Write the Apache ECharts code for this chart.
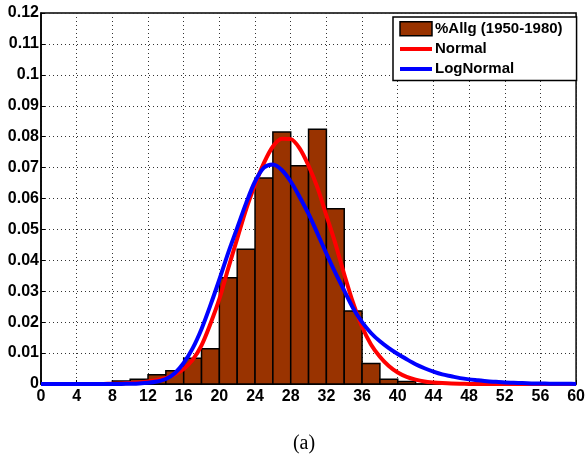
<!DOCTYPE html>
<html>
<head>
<meta charset="utf-8">
<script src="https://cdn.jsdelivr.net/npm/echarts@6/dist/echarts.min.js"></script>
<style>
html,body{margin:0;padding:0;background:#fff;}
#c{width:588px;height:455px;}
</style>
</head>
<body>
<div id="c"></div>
<script>
// Histogram bins: [start, end, density]
const binStarts = [8, 10, 12, 14, 16, 18, 20, 22, 24, 26, 28, 30, 32, 34, 36, 38, 40];
const binEnds   = [10, 12, 14, 16, 18, 20, 22, 24, 26, 28, 30, 32, 34, 36, 38, 40, 42];
const binValues = [0.001, 0.0015, 0.003, 0.0043, 0.0083, 0.0114, 0.0344, 0.0436, 0.0666, 0.0815, 0.0706, 0.0824, 0.0567, 0.0236, 0.0066, 0.0015, 0.0008];

// Fitted curves sampled at x positions
const curveX = [0,1,2,3,4,5,6,7,8,9,10,11,12,13,14,15,16,17,18,19,20,21,22,23,24,25,26,27,28,29,30,31,32,33,34,35,36,37,38,39,40,41,42,43,44,45,46,47,48,49,50,51,52,53,54,55,56,57,58,59,60];
const normalY = [0,0,0,0,0,0,0,0.00003,0.00008,0.00015,0.0003,0.0005,0.0008,0.0013,0.002,0.0031,0.0049,0.0078,0.0125,0.0195,0.0275,0.0375,0.047,0.0565,0.0645,0.0715,0.0768,0.0793,0.0792,0.0762,0.0706,0.0635,0.0545,0.0455,0.0355,0.0262,0.0185,0.0128,0.0088,0.0058,0.0037,0.0023,0.0014,0.0008,0.0005,0.0003,0.00015,0.00008,0.00004,0.00002,0,0,0,0,0,0,0,0,0,0,0];
const logNormalY = [0,0,0,0,0,0,0,0,0,0.00003,0.0001,0.0002,0.0004,0.0008,0.0016,0.0035,0.0068,0.0115,0.0178,0.0255,0.0338,0.0425,0.0505,0.0585,0.0655,0.07,0.071,0.0692,0.0655,0.0605,0.055,0.0487,0.0422,0.036,0.0302,0.0245,0.02,0.0165,0.0138,0.0116,0.0097,0.008,0.0064,0.0051,0.004,0.0031,0.0025,0.0019,0.0015,0.0012,0.0009,0.0007,0.0005,0.0004,0.0003,0.0002,0.00015,0.0001,0.00007,0.00005,0.00003];

const xTicks = {min: 0, max: 60, interval: 4};
const yTicks = {min: 0, max: 0.12, interval: 0.01};

const barData = binStarts.map((s, i) => [s, binEnds[i], binValues[i]]);
const normalData = curveX.map((x, i) => [x, normalY[i]]);
const logNormalData = curveX.map((x, i) => [x, logNormalY[i]]);

const FONT = '"Liberation Sans", Arial, Helvetica, sans-serif';
const chart = echarts.init(document.getElementById('c'), null, {renderer: 'canvas'});
chart.setOption({
  animation: false,
  backgroundColor: '#fff',
  grid: {left: 41, right: 10, top: 13, bottom: 71, show: true, borderColor: '#000', borderWidth: 1.5, backgroundColor: '#fff'},
  legend: {
    orient: 'vertical',
    left: 393, top: 17,
    padding: [4, 14, 4, 5],
    itemWidth: 32, itemHeight: 14, itemGap: 5,
    backgroundColor: '#fff', borderColor: '#000', borderWidth: 1.5,
    align: 'left',
    textStyle: {fontFamily: FONT, fontWeight: 'bold', fontSize: 15, color: '#000', padding: [0, 0, 0, -2]},
    data: [
      {name: '%Allg (1950-1980)', icon: 'rect', itemStyle: {color: '#993300', borderColor: '#000', borderWidth: 1.5}},
      {name: 'Normal', itemStyle: {color: 'rgba(0,0,0,0)', borderWidth: 0}, lineStyle: {width: 4}},
      {name: 'LogNormal', itemStyle: {color: 'rgba(0,0,0,0)', borderWidth: 0}, lineStyle: {width: 4}}
    ]
  },
  xAxis: {
    type: 'value', min: xTicks.min, max: xTicks.max, interval: xTicks.interval,
    axisLine: {show: true, onZero: false, lineStyle: {color: '#000', width: 1.5}},
    axisTick: {show: true, inside: true, length: 4, lineStyle: {color: '#000'}},
    axisLabel: {fontFamily: FONT, fontWeight: 'bold', fontSize: 16, color: '#000', margin: 5},
    splitLine: {show: true, lineStyle: {color: '#333', type: [1, 3], width: 1}}
  },
  yAxis: {
    type: 'value', min: yTicks.min, max: yTicks.max, interval: yTicks.interval,
    axisLine: {show: true, lineStyle: {color: '#000', width: 1.5}},
    axisTick: {show: true, inside: true, length: 4, lineStyle: {color: '#000'}},
    axisLabel: {fontFamily: FONT, fontWeight: 'bold', fontSize: 16, color: '#000', margin: 2},
    splitLine: {show: true, lineStyle: {color: '#333', type: [1, 3], width: 1}}
  },
  series: [
    {
      name: '%Allg (1950-1980)',
      type: 'custom',
      itemStyle: {color: '#993300', borderColor: '#000', borderWidth: 1.5},
      encode: {x: [0, 1], y: 2},
      data: barData,
      renderItem: function (params, api) {
        const p0 = api.coord([api.value(0), api.value(2)]);
        const p1 = api.coord([api.value(1), 0]);
        return {
          type: 'rect',
          shape: {x: p0[0], y: p0[1], width: p1[0] - p0[0], height: p1[1] - p0[1]},
          style: {fill: '#993300', stroke: '#000', lineWidth: 1.5}
        };
      }
    },
    {
      name: 'Normal', type: 'line', data: normalData, smooth: 0.3,
      symbol: 'none', clip: true,
      lineStyle: {color: '#ff0000', width: 4}, itemStyle: {color: '#ff0000'}
    },
    {
      name: 'LogNormal', type: 'line', data: logNormalData, smooth: 0.3,
      symbol: 'none', clip: true,
      lineStyle: {color: '#0000ff', width: 4}, itemStyle: {color: '#0000ff'}
    }
  ],
  graphic: [{
    type: 'text', x: 304, y: 444,
    style: {text: '(a)', font: '20px "Liberation Serif", "Times New Roman", serif', fill: '#000', textAlign: 'center', textVerticalAlign: 'middle'}
  }]
});
</script>
</body>
</html>
